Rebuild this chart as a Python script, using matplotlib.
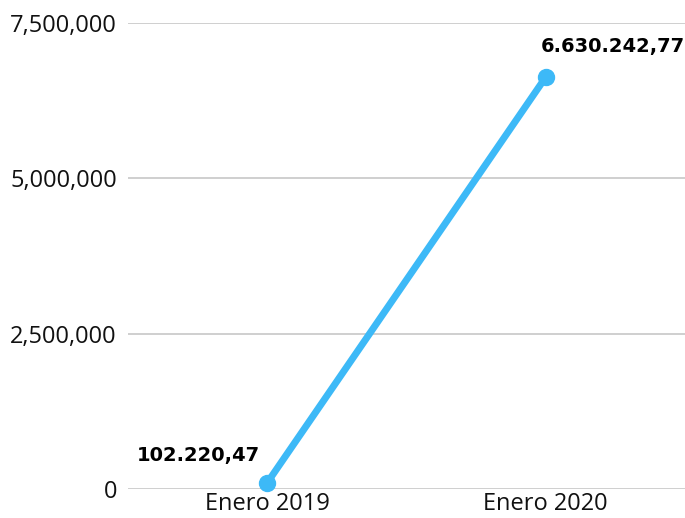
import matplotlib.pyplot as plt
from matplotlib.ticker import FuncFormatter

categories = ["Enero 2019", "Enero 2020"]
values = [102220.47, 6630242.77]
value_labels = ["102.220,47", "6.630.242,77"]
y_ticks = [0, 2500000, 5000000, 7500000]

fig = plt.figure(figsize=(6.85, 5.18), dpi=100)
ax = fig.add_axes([0.187, 0.056, 0.813, 0.8996])

x = list(range(len(categories)))
ax.plot(x, values, color="#3DB9F7", linewidth=5, marker="o", markersize=11.5,
        solid_capstyle="round", zorder=3, clip_on=False)

offsets = [(-50, 19.5), (48, 22)]
for xi, v, lab, off in zip(x, values, value_labels, offsets):
    ax.annotate(lab, (xi, v), xytext=off, textcoords="offset points",
                ha="center", va="center", fontsize=14, fontweight="bold",
                family="DejaVu Sans", color="black")

ax.set_xlim(-0.5, 1.5)
ax.set_ylim(0, 7500000)
ax.set_xticks(x)
ax.set_xticklabels(categories)
ax.set_yticks(y_ticks)
ax.yaxis.set_major_formatter(FuncFormatter(lambda v, p: f"{int(v):,}"))
ax.grid(axis="y", color="#cccccc", linewidth=1.3)
ax.set_axisbelow(True)
for s in ax.spines.values():
    s.set_visible(False)
ax.tick_params(length=0, labelsize=17, colors="#111111", pad=2)
for t in ax.get_xticklabels() + ax.get_yticklabels():
    t.set_family("Open Sans")
ax.tick_params(axis="y", pad=8)

fig.savefig("out.png", dpi=100)
